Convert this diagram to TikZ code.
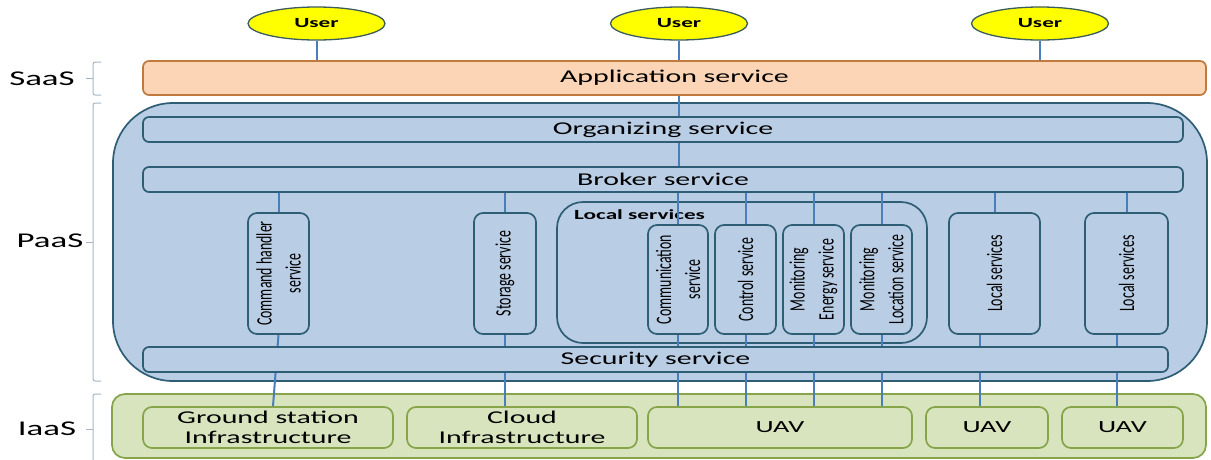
\documentclass[tikz,border=0pt]{standalone}
\usepackage{fontspec}
\setmainfont{Carlito}
\newfontfamily\widefont[FakeStretch=1.66]{Carlito}
\newfontfamily\slimfont[FakeStretch=0.63]{Carlito}
\usetikzlibrary{shapes.geometric}
\definecolor{userfill}{HTML}{FFFF00}
\definecolor{userline}{HTML}{3D5C5C}
\definecolor{appfill}{HTML}{FBD5B5}
\definecolor{appline}{HTML}{C07A3E}
\definecolor{paasfill}{HTML}{B9CDE5}
\definecolor{paasline}{HTML}{2E5E75}
\definecolor{iaasfill}{HTML}{D7E4BD}
\definecolor{iaasline}{HTML}{86A44A}
\definecolor{linkblue}{HTML}{4A7EBB}
\definecolor{bracecol}{HTML}{A5B5C5}

\begin{document}
\begin{tikzpicture}[x=1pt,y=-1pt,
  bar/.style={draw=paasline, fill=paasfill, line width=1.7pt, rounded corners=6pt, inner sep=0pt, font=\widefont\fontsize{18}{20}\selectfont},
  svc/.style={draw=paasline, fill=paasfill, line width=1.7pt, rounded corners=9pt, inner sep=0pt},
  vtext/.style={rotate=90, align=center, inner sep=0pt, font=\slimfont\fontsize{22}{29}\selectfont},
  infra/.style={draw=iaasline, fill=iaasfill, line width=1.7pt, rounded corners=9pt, inner sep=0pt, align=center, font=\widefont\fontsize{18}{20}\selectfont},
  user/.style={ellipse, draw=userline, fill=userfill, line width=1.3pt, minimum width=137pt, minimum height=33pt, inner sep=0pt, font=\widefont\bfseries\fontsize{14}{15}\selectfont},
  layer/.style={font=\widefont\fontsize{21}{24}\selectfont},
  brace/.style={draw=bracecol, line width=1pt, rounded corners=2pt},
  link/.style={draw=linkblue, line width=2pt}]
  \useasboundingbox (0,0) rectangle (1211,459);

  \node[user] (u1) at (316.5,23.5) {User};
  \node[user] (u2) at (679,23.5) {User};
  \node[user] (u3) at (1040,23.5) {User};

  \node[layer] (saas) at (42,79) {SaaS};
  \node[layer] (paas) at (50,241) {PaaS};
  \node[layer] (iaas) at (47,429) {IaaS};
  \draw[brace] (101,62) -- (93,62) -- (93,95) -- (101,95);
  \draw[brace] (93,78.5) -- (86,78.5);
  \draw[brace] (101,103) -- (93,103) -- (93,381) -- (101,381);
  \draw[brace] (93,242) -- (86,242);
  \draw[brace] (101,394) -- (93,394) -- (93,470);
  \draw[brace] (93,429) -- (86,429);

  \node[bar, draw=appline, fill=appfill, minimum width=1063pt, minimum height=34pt] (app) at (674.5,78) {Application service};

  \node[svc, rounded corners=60pt, minimum width=1094pt, minimum height=278pt] (paasbox) at (660,242) {};
  \node[bar, minimum width=1040pt, minimum height=25pt] (org) at (663,129.5) {Organizing service};
  \node[bar, minimum width=1040pt, minimum height=25pt] (broker) at (663,179.5) {Broker service};

  \node[svc, minimum width=61pt, minimum height=121pt] (cmd) at (278.5,273.5) {};
  \node[vtext] at (cmd) {Command handler\\service};
  \node[svc, minimum width=62pt, minimum height=121pt] (stor) at (505,273.5) {};
  \node[vtext] at (stor) {Storage service};

  \node[svc, rounded corners=26pt, minimum width=370pt, minimum height=141pt] (local) at (742,272.5) {};
  \node[anchor=west, inner sep=0pt, font=\widefont\bfseries\fontsize{14}{16}\selectfont] (localtitle) at (574,214.5) {Local services};
  \node[svc, minimum width=60pt, minimum height=109pt] (comm) at (678,279.5) {};
  \node[vtext] at (comm) {Communication\\service};
  \node[svc, minimum width=61pt, minimum height=109pt] (ctrl) at (745.5,279.5) {};
  \node[vtext] at (ctrl) {Control service};
  \node[svc, minimum width=61pt, minimum height=109pt] (energy) at (813.5,279.5) {};
  \node[vtext] at (energy) {Monitoring\\Energy service};
  \node[svc, minimum width=61pt, minimum height=109pt] (loc) at (881.5,279.5) {};
  \node[vtext] at (loc) {Monitoring\\Location service};

  \node[svc, minimum width=91pt, minimum height=121pt] (lsa) at (994.5,273.5) {};
  \node[vtext] at (lsa) {Local services};
  \node[svc, minimum width=83pt, minimum height=121pt] (lsb) at (1126.5,273.5) {};
  \node[vtext] at (lsb) {Local services};

  \node[infra, rounded corners=13pt, minimum width=1094pt, minimum height=64pt] (iaasbox) at (659,426) {};
  \node[infra, minimum width=250pt, minimum height=41pt] (ground) at (268,427.5) {Ground station\\Infrastructure};
  \node[infra, minimum width=230pt, minimum height=41pt] (cloud) at (522,427.5) {Cloud\\Infrastructure};
  \node[infra, minimum width=264pt, minimum height=41pt, font=\widefont\fontsize{17}{20}\selectfont] (uav) at (780,427.5) {UAV};
  \node[infra, minimum width=122pt, minimum height=41pt, font=\widefont\fontsize{17}{20}\selectfont] (uavb) at (987,427.5) {UAV};
  \node[infra, minimum width=121pt, minimum height=41pt, font=\widefont\fontsize{17}{20}\selectfont] (uavc) at (1122.5,427.5) {UAV};

  \foreach \u in {u1,u2,u3}
    \draw[link] (\u.south) -- (\u.south |- app.north);
  \draw[link] (app.south -| u2) -- (org.north -| u2);
  \draw[link] (org.south -| u2) -- (broker.north -| u2);
  \foreach \n in {cmd,stor,comm,ctrl,energy,loc,lsa,lsb}
    \draw[link] (\n.north |- broker.south) -- (\n.north);
  \draw[link] (cmd.south) -- ([xshift=5pt]ground.north);
  \foreach \n/\m in {stor/cloud,comm/uav,ctrl/uav,energy/uav,loc/uav}
    \draw[link] (\n.south) -- (\n.south |- \m.north);
  \draw[link] ([xshift=-15pt]lsa.south) -- ([xshift=-15pt]lsa.south |- uavb.north);
  \draw[link] ([xshift=-10pt]lsb.south) -- ([xshift=-10pt]lsb.south |- uavc.north);

  \node[bar, minimum width=1025pt, minimum height=25pt] (sec) at (655.5,359.5) {Security service};
\end{tikzpicture}
\end{document}
